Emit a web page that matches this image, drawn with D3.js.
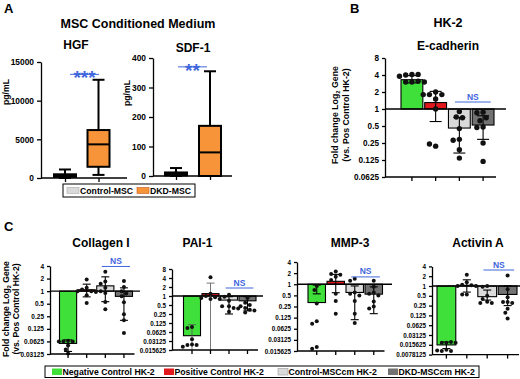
<!DOCTYPE html>
<html lang="en">
<head>
<meta charset="UTF-8" />
<title>MSC conditioned medium / HK-2 gene expression</title>
<script src="https://d3js.org/d3.v7.min.js"></script>
<style>
  body { margin: 0; background: #fff; }
  svg { display: block; font-family: Arial, "Liberation Sans", sans-serif; font-weight: bold; }
</style>
</head>
<body>
<script>
// ---- Panel A: box plots, each row is [min, Q1, median, Q3, max] ----
const boxGroups = ['Control-MSC', 'DKD-MSC'];
const hgfBoxes = [[0, 150, 350, 480, 1100], [400, 1450, 4350, 6200, 12700]];
const sdfBoxes = [[0, 2, 7, 12, 27], [0, 0, 80, 170, 355]];
const hgfTicks = [0, 5000, 10000, 15000];
const sdfTicks = [0, 100, 200, 300, 400];

// ---- Panels B and C: mean bars, [low, high] error, individual points ----
const groups = ['Negative Control HK-2', 'Positive Control HK-2', 'Control-MSCcm HK-2', 'DKD-MSCcm HK-2'];

const ecadMeans = [3.3, 1.3, 0.46, 0.52];
const ecadErr = [[2.9, 3.9], [0.6, 2.05], [0.166, 0.71], [0.29, 0.76]];
const ecadPoints = [
  [4.1, 4.0, 4.1, 3.8, 3.0, 3.0, 3.1, 3.0],
  [2.0, 1.8, 1.8, 1.8, 1.5, 1.0, 0.22, 0.24],
  [0.9, 0.72, 0.7, 0.45, 0.29, 0.28, 0.19, 0.135],
  [0.88, 0.86, 0.7, 0.62, 0.48, 0.47, 0.25, 0.118]
];
const ecadTicks = [0.0625, 0.125, 0.25, 0.5, 1, 2, 4, 8];

const colMeans = [0.056, 1.08, 1.34, 0.75];
const colErr = [[0.036, 0.068], [0.73, 1.47], [0.56, 2.2], [0.2, 1.2]];
const colPoints = [
  [0.065, 0.063, 0.062, 0.062, 0.05, 0.04, 0.032],
  [1.9, 1.2, 1.1, 1.0, 1.0, 0.95, 0.8, 0.52],
  [2.9, 1.7, 1.5, 1.2, 1.0, 0.9, 0.55, 0.37],
  [1.75, 1.25, 1.0, 0.88, 0.75, 0.54, 0.28, 0.2, 0.1]
];
const colTicks = [0.03125, 0.0625, 0.125, 0.25, 0.5, 1, 2, 4];

const paiMeans = [0.047, 1.2, 0.73, 0.69];
const paiErr = [[null, 0.11], [null, 2.7], [0.25, 0.95], [0.32, 0.95]];
const paiPoints = [
  [0.092, 0.085, 0.036, 0.024, 0.023, 0.023, 0.02],
  [4.2, 1.2, 1.0, 0.9, 0.85, 0.8, 0.8],
  [1.1, 0.95, 0.7, 0.45, 0.45, 0.4, 0.38, 0.3],
  [0.85, 0.6, 0.5, 0.45, 0.4, 0.35, 0.33, 0.28]
];
const paiTicks = [0.015625, 0.03125, 0.0625, 0.125, 0.25, 0.5, 1, 2, 4, 8];

const mmpMeans = [0.32, 1.2, 0.6, 0.54];
const mmpErr = [[0.55, 0.95], [0.59, 1.85], [0.11, 0.9], [0.16, 0.85]];
const mmpPoints = [
  [0.9, 0.7, 0.3, 0.1, 0.085, 0.02, 0.018],
  [2.2, 1.9, 1.8, 1.6, 1.3, 0.55, 0.35, 0.16],
  [1.4, 1.25, 0.6, 0.55, 0.5, 0.35, 0.16, 0.09],
  [1.25, 0.85, 0.6, 0.55, 0.5, 0.34, 0.25, 0.22]
];
const mmpTicks = [0.015625, 0.03125, 0.0625, 0.125, 0.25, 0.5, 1, 2, 4];

const actMeans = [0.0155, 1.05, 0.47, 0.55];
const actErr = [[0.012, 0.019], [0.65, 1.55], [0.37, 0.75], [0.25, 1.0]];
const actPoints = [
  [0.018, 0.018, 0.019, 0.018, 0.011, 0.01, 0.01, 0.0105],
  [2.2, 1.3, 1.1, 1.05, 1.0, 1.0, 0.55, 0.55],
  [1.0, 0.95, 0.5, 0.4, 0.33, 0.3, 0.3],
  [2.1, 0.8, 0.45, 0.32, 0.32, 0.3, 0.2, 0.15, 0.1]
];
const actTicks = [0.0078125, 0.015625, 0.03125, 0.0625, 0.125, 0.25, 0.5, 1, 2, 4];

// styles
const groupColors = ['#3fe03a', '#e0191e', '#dadada', '#727272'];
const boxColors = ['#d9d9d9', '#f7943a'];
const blue = '#3f66dd';

const svg = d3.select('body').append('svg').attr('width', 520).attr('height', 379);

function text(g, x, y, str, size, anchor, fill) {
  return g.append('text').attr('x', x).attr('y', y).attr('font-size', size)
    .attr('text-anchor', anchor || 'middle').attr('fill', fill || '#000').text(str);
}

function styleAxis(a, size) {
  a.attr('font-family', null).attr('font-size', size).attr('font-weight', 'bold');
  a.selectAll('line, path').attr('stroke', '#000').attr('stroke-width', 1.3);
}

// simple greedy swarm so equal values sit side by side
function swarm(values, y, cx, r) {
  const placed = [];
  const step = r * 1.15;
  return values.map(v => {
    const py = y(v);
    let k = 0, px;
    for (;;) {
      const off = k === 0 ? 0 : Math.ceil(k / 2) * step * (k % 2 ? -1 : 1);
      px = cx + off;
      if (placed.every(p => (p[0] - px) ** 2 + (p[1] - py) ** 2 >= (2 * r + 0.6) ** 2)) break;
      k++;
    }
    placed.push([px, py]);
    return [px, py];
  });
}

// ---------------- Panel A ----------------
text(svg, 4, 13, 'A', 13, 'start');
text(svg, 138, 28, 'MSC Conditioned Medium', 12.5);

function boxPanel(cfg) {
  const g = svg.append('g');
  const y = d3.scaleLinear().domain([cfg.ticks[0], cfg.ticks[cfg.ticks.length - 1]]).range([cfg.yBottom, cfg.yTop]);
  const x = d3.scalePoint().domain(boxGroups).range(cfg.centers);
  const w = 22, cap = 12;

  cfg.boxes.forEach((b, i) => {
    const cx = x(boxGroups[i]);
    const bg = g.append('g').attr('stroke', '#000').attr('stroke-width', 2);
    bg.append('line').attr('x1', cx).attr('x2', cx).attr('y1', y(b[0])).attr('y2', y(b[4]));
    bg.append('line').attr('x1', cx - cap / 2).attr('x2', cx + cap / 2).attr('y1', y(b[4])).attr('y2', y(b[4]));
    bg.append('line').attr('x1', cx - cap / 2).attr('x2', cx + cap / 2).attr('y1', y(b[0])).attr('y2', y(b[0]));
    bg.append('rect').attr('x', cx - w / 2).attr('width', w)
      .attr('y', y(b[3])).attr('height', Math.max(1, y(b[1]) - y(b[3])))
      .attr('fill', boxColors[i]);
    bg.append('line').attr('x1', cx - w / 2).attr('x2', cx + w / 2).attr('y1', y(b[2])).attr('y2', y(b[2]));
  });

  g.append('g').attr('transform', `translate(${cfg.axisX},0)`)
    .call(d3.axisLeft(y).tickValues(cfg.ticks).tickFormat(d3.format('d')).tickSize(4).tickSizeOuter(0))
    .call(a => styleAxis(a, 8.4));
  g.append('line').attr('x1', cfg.axisX).attr('x2', cfg.xEnd).attr('y1', cfg.yBottom).attr('y2', cfg.yBottom)
    .attr('stroke', '#000').attr('stroke-width', 1.6);
  g.append('g').attr('transform', `translate(0,${cfg.yBottom})`)
    .call(d3.axisBottom(x).tickFormat('').tickSize(4))
    .call(a => { styleAxis(a, 8); a.select('.domain').remove(); });

  text(g, cfg.titleX, cfg.titleY, cfg.title, 12);
  text(g, 0, 0, 'pg/mL', 8.6).attr('transform', `translate(${cfg.labelX},${cfg.labelY}) rotate(-90)`);

  // significance bracket
  const sy = y(cfg.sigAt);
  g.append('line').attr('x1', cfg.sigX[0]).attr('x2', cfg.sigX[1]).attr('y1', sy).attr('y2', sy)
    .attr('stroke', blue).attr('stroke-width', 1);
  text(g, (cfg.sigX[0] + cfg.sigX[1]) / 2, sy + 10, cfg.sig, 19, 'middle', blue);
}

boxPanel({ title: 'HGF', titleX: 76, titleY: 49, boxes: hgfBoxes, ticks: hgfTicks,
  axisX: 41, xEnd: 127, yTop: 62, yBottom: 178, centers: [65, 98.5],
  labelX: 9, labelY: 92, sigAt: 13400, sigX: [70, 99], sig: '***' });
boxPanel({ title: 'SDF-1', titleX: 193, titleY: 52, boxes: sdfBoxes, ticks: sdfTicks,
  axisX: 153, xEnd: 232, yTop: 58, yBottom: 176, centers: [176, 210],
  labelX: 130, labelY: 93, sigAt: 370, sigX: [178, 207], sig: '**' });

// legend A
(function () {
  const g = svg.append('g');
  g.append('rect').attr('x', 63).attr('y', 184).attr('width', 132).attr('height', 13)
    .attr('fill', '#fff').attr('stroke', '#000').attr('stroke-width', 1);
  const items = [[67, 80], [137, 150]];
  boxGroups.forEach((name, i) => {
    g.append('rect').attr('x', items[i][0]).attr('y', 187.5).attr('width', 12).attr('height', 6)
      .attr('fill', boxColors[i]).attr('stroke', i ? '#c0581a' : '#aaa').attr('stroke-width', 0.6);
    text(g, items[i][1], 194, name, 8.7, 'start');
  });
})();

// ---------------- Panels B and C ----------------
function genePanel(cfg) {
  const g = svg.append('g');
  const y = d3.scaleLog().base(2).domain([cfg.ticks[0], cfg.ticks[cfg.ticks.length - 1]]).range([cfg.yBottom, cfg.yTop]);
  const x = d3.scaleBand().domain(groups).range(cfg.xRange).paddingInner(0.08);
  const bw = x.bandwidth();
  const y1 = y(1);

  g.selectAll('rect').data(cfg.means).join('rect')
    .attr('x', (d, i) => x(groups[i])).attr('width', bw)
    .attr('y', d => Math.min(y(d), y1)).attr('height', d => Math.abs(y(d) - y1))
    .attr('fill', (d, i) => groupColors[i]).attr('stroke', '#000').attr('stroke-width', 1.1);

  g.append('line').attr('x1', cfg.axisX).attr('x2', cfg.xEnd).attr('y1', y1).attr('y2', y1)
    .attr('stroke', '#000').attr('stroke-width', 1.3);

  // error bars (open-ended ones run down to the axis as a thin grey line)
  cfg.err.forEach((e, i) => {
    const cx = x(groups[i]) + bw / 2;
    const open = e[0] == null;
    const lo = open ? cfg.yBottom : y(e[0]);
    const hi = y(e[1]);
    const eg = g.append('g').attr('stroke', open ? '#555' : '#000').attr('stroke-width', open ? 0.8 : 1.1);
    eg.append('line').attr('x1', cx).attr('x2', cx).attr('y1', lo).attr('y2', hi);
    eg.append('line').attr('x1', cx - cfg.cap / 2).attr('x2', cx + cfg.cap / 2).attr('y1', hi).attr('y2', hi);
    if (!open) eg.append('line').attr('x1', cx - cfg.cap / 2).attr('x2', cx + cfg.cap / 2).attr('y1', lo).attr('y2', lo);
  });

  // individual points
  cfg.points.forEach((vals, i) => {
    const cx = x(groups[i]) + bw / 2;
    g.append('g').selectAll('circle').data(swarm(vals, y, cx, cfg.r)).join('circle')
      .attr('cx', d => d[0]).attr('cy', d => d[1]).attr('r', cfg.r).attr('fill', '#111');
  });

  g.append('g').attr('transform', `translate(${cfg.axisX},0)`)
    .call(d3.axisLeft(y).tickValues(cfg.ticks).tickFormat(d => String(d)).tickSize(3).tickSizeOuter(0))
    .call(a => styleAxis(a, cfg.tickFont));
  g.append('line').attr('x1', cfg.axisX).attr('x2', cfg.xRange[1] + 2).attr('y1', cfg.yBottom).attr('y2', cfg.yBottom)
    .attr('stroke', '#000').attr('stroke-width', 1.3);
  g.append('g').attr('transform', `translate(0,${cfg.yBottom})`)
    .call(d3.axisBottom(x).tickFormat('').tickSize(4))
    .call(a => { styleAxis(a, 8); a.select('.domain').remove(); });

  text(g, cfg.titleX, cfg.titleY, cfg.title, 12);

  const ny = y(cfg.nsAt);
  const nx0 = x(groups[2]) + bw * 0.3, nx1 = x(groups[3]) + bw * 0.85;
  g.append('line').attr('x1', nx0).attr('x2', nx1).attr('y1', ny).attr('y2', ny).attr('stroke', blue).attr('stroke-width', 1);
  text(g, (nx0 + nx1) / 2, ny - 2.5, 'NS', cfg.nsFont, 'middle', blue);
}

function foldLabel(x, y, size) {
  const t = svg.append('text').attr('transform', `translate(${x},${y}) rotate(-90)`)
    .attr('text-anchor', 'middle').attr('font-size', size);
  t.append('tspan').text('Fold change Log');
  t.append('tspan').attr('font-size', size * 0.65).attr('dy', size * 0.25).text('2');
  t.append('tspan').attr('dy', -size * 0.25).text(' Gene');
  svg.append('text').attr('transform', `translate(${x + size * 1.2},${y}) rotate(-90)`)
    .attr('text-anchor', 'middle').attr('font-size', size).text('(vs. Pos Control HK-2)');
}

// Panel B
text(svg, 350, 13, 'B', 13, 'start');
text(svg, 448, 27, 'HK-2', 12.5);
foldLabel(338, 115, 8.8);
genePanel({ title: 'E-cadherin', titleX: 448, titleY: 50, means: ecadMeans, err: ecadErr, points: ecadPoints,
  ticks: ecadTicks, axisX: 385, xRange: [401, 494], xEnd: 506, yTop: 58, yBottom: 177,
  nsAt: 1.33, r: 2.7, cap: 12, tickFont: 8.2, nsFont: 8.5 });

// Panel C
text(svg, 4, 231, 'C', 13, 'start');
foldLabel(9, 309, 8.6);
genePanel({ title: 'Collagen I', titleX: 101, titleY: 247, means: colMeans, err: colErr, points: colPoints,
  ticks: colTicks, axisX: 50, xRange: [59.5, 132.5], xEnd: 140, yTop: 266, yBottom: 354,
  nsAt: 3.9, r: 2, cap: 8, tickFont: 6.5, nsFont: 8.5 });
genePanel({ title: 'PAI-1', titleX: 197.5, titleY: 247, means: paiMeans, err: paiErr, points: paiPoints,
  ticks: paiTicks, axisX: 172, xRange: [183.5, 256], xEnd: 263, yTop: 269, yBottom: 350,
  nsAt: 1.85, r: 2, cap: 8, tickFont: 6.3, nsFont: 8.5 });
genePanel({ title: 'MMP-3', titleX: 350, titleY: 247, means: mmpMeans, err: mmpErr, points: mmpPoints,
  ticks: mmpTicks, axisX: 297, xRange: [308, 382.5], xEnd: 392, yTop: 262, yBottom: 351,
  nsAt: 1.58, r: 2, cap: 8, tickFont: 6.3, nsFont: 8.5 });
genePanel({ title: 'Activin A', titleX: 478, titleY: 247, means: actMeans, err: actErr, points: actPoints,
  ticks: actTicks, axisX: 432, xRange: [437, 517], xEnd: 520, yTop: 266.4, yBottom: 354.6,
  nsAt: 3.1, r: 2, cap: 8, tickFont: 6.3, nsFont: 8.5 });

// legend C
(function () {
  const g = svg.append('g');
  g.append('rect').attr('x', 45).attr('y', 366).attr('width', 434).attr('height', 11.5)
    .attr('fill', '#fff').attr('stroke', '#000').attr('stroke-width', 1);
  const sw = [52, 164, 278, 388];
  groups.forEach((name, i) => {
    g.append('rect').attr('x', sw[i]).attr('y', 368.5).attr('width', 10).attr('height', 6.5)
      .attr('fill', groupColors[i]).attr('stroke', i === 2 ? '#999' : 'none').attr('stroke-width', 0.6);
    text(g, sw[i] + 10.5, 375, name, 8.7, 'start');
  });
})();
</script>
</body>
</html>
